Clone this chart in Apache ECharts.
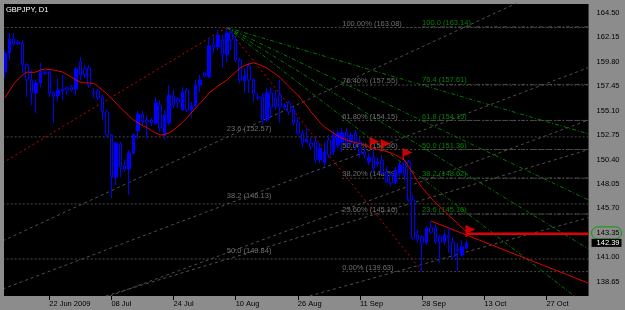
<!DOCTYPE html>
<html><head><meta charset="utf-8">
<script src="https://cdn.jsdelivr.net/npm/echarts@6/dist/echarts.min.js"></script>
<style>html,body{margin:0;padding:0;background:#8c8c8c}#c{width:625px;height:310px}</style>
</head><body><div id="c"></div>
<script>
// ---------- data ----------
const kFirst = -10;          // first bar index shown (bar 0 = 22 Jun 2009)
const kLast = 121;           // last slot index (future space)
const tickBars = [0, 14, 28, 42, 56, 70, 84, 98, 112];
const tickLabels = ['22 Jun 2009', '08 Jul', '24 Jul', '10 Aug', '26 Aug', '11 Sep', '28 Sep', '13 Oct', '27 Oct'];
const priceTicks = [164.50, 162.15, 159.80, 157.45, 155.10, 152.75, 150.40, 148.05, 145.70, 143.35, 141.00, 138.65];
const yMin = 137.286, yMax = 165.336;
const lastPrice = 142.39;
const circledPrice = 143.35;

const open = [158.80,160.63,161.97,161.69,161.59,159.48,158.04,156.79,157.75,158.80,
158.80,156.79,156.50,157.17,157.27,157.36,157.17,159.76,159.09,159.19,
156.82,156.98,156.40,154.96,152.75,148.72,151.89,149.77,149.49,151.02,
153.14,154.77,154.19,154.19,153.90,155.63,152.75,153.90,156.50,156.21,
155.15,157.07,155.15,155.54,157.55,158.71,158.32,161.40,161.21,161.88,
160.44,162.55,161.88,159.96,157.94,159.38,158.04,156.40,156.40,154.19,
156.79,156.31,156.59,155.44,155.83,155.25,154.00,152.94,152.08,151.98,
152.08,150.35,150.06,152.27,151.12,151.79,152.08,153.04,152.08,152.94,
152.08,151.12,150.16,150.64,149.97,150.35,149.20,148.91,148.14,149.10,
150.16,150.16,146.51,143.15,142.95,142.38,143.82,143.82,142.95,142.47,
143.05,142.47,141.80,141.22,141.90];
const close = [160.63,161.97,161.49,161.54,159.48,158.04,156.79,157.75,158.80,158.66,
156.79,156.50,157.07,156.98,157.07,157.07,159.09,158.52,158.52,157.55,
156.69,156.31,154.96,152.75,148.72,151.98,149.68,149.49,151.02,152.75,
154.77,154.00,154.00,153.90,155.83,153.42,154.67,156.59,155.63,155.92,
156.88,155.15,155.54,157.55,158.04,158.42,161.30,161.21,162.36,160.44,
162.55,161.88,159.96,158.04,158.42,158.04,156.69,156.31,154.19,156.79,
155.44,155.44,155.44,155.63,154.96,153.90,152.94,151.98,152.37,151.60,
150.35,151.50,151.12,150.83,152.75,152.94,152.94,151.98,152.75,151.98,
151.02,150.83,150.64,149.58,150.16,149.10,148.24,148.14,149.39,149.87,
148.91,146.51,142.86,142.76,142.38,143.82,143.43,142.47,142.47,143.15,
142.86,141.03,141.61,141.99,142.39];
const low = [158.23,159.96,161.30,161.40,158.71,156.40,155.63,154.87,157.36,158.52,
156.40,153.90,155.92,156.11,156.59,156.88,156.59,158.04,158.23,157.27,
156.31,156.11,154.19,152.56,146.70,147.95,148.72,149.20,146.99,150.83,
152.37,153.62,152.37,153.62,153.71,153.04,152.27,153.71,155.35,155.35,
155.06,154.96,154.39,155.44,156.88,158.23,158.23,160.63,160.92,159.19,
159.76,160.92,159.76,157.75,156.79,156.79,155.92,156.11,153.71,154.00,
154.39,155.15,153.90,155.15,154.67,153.71,152.75,151.60,151.98,151.31,
150.06,150.06,149.68,150.54,150.83,151.50,151.12,151.50,151.79,151.31,
150.54,150.54,149.87,149.10,149.68,149.00,148.14,147.85,148.04,148.72,
148.43,146.32,142.67,142.38,139.63,142.19,143.24,142.28,140.46,142.19,
141.42,140.94,139.65,141.03,141.70];
const high = [160.92,162.55,162.55,161.88,161.88,159.67,159.00,158.04,159.67,159.00,
159.00,156.98,158.23,158.52,157.46,157.55,159.28,160.24,159.48,159.48,
157.27,157.17,156.59,155.15,152.85,152.08,152.08,150.35,151.31,152.94,
155.06,155.06,154.58,154.39,156.40,156.11,155.15,157.55,157.07,156.40,
157.36,157.27,155.92,158.04,158.52,158.80,162.07,162.17,162.84,162.36,
163.08,162.84,162.26,160.15,159.19,159.67,158.23,156.79,156.79,157.27,
157.36,157.07,158.04,155.83,156.02,155.44,154.39,153.23,153.52,152.56,
152.46,151.98,152.08,152.75,153.23,153.23,153.42,153.42,153.04,153.23,
152.46,151.50,151.02,151.31,150.54,150.83,149.68,149.20,149.68,150.16,
150.35,150.35,146.99,143.63,143.15,144.01,144.49,144.20,143.15,143.63,
143.82,142.95,142.38,142.67,142.57];
const ma = [156.31,156.98,157.65,158.13,158.52,158.80,158.76,158.80,158.99,159.09,
159.04,158.99,158.90,158.80,158.56,158.32,158.03,157.84,157.75,157.75,
157.70,157.41,157.07,156.69,156.31,155.83,155.39,154.96,154.58,154.19,
153.91,153.66,153.47,153.18,152.94,152.75,152.80,152.94,153.23,153.57,
153.95,154.39,154.87,155.35,155.83,156.26,156.79,157.12,157.46,157.75,
158.03,158.42,158.80,159.19,159.43,159.57,159.67,159.57,159.38,159.19,
158.90,158.61,158.28,157.84,157.41,156.98,156.59,156.07,155.54,154.96,
154.48,153.95,153.52,153.23,152.94,152.66,152.42,152.27,152.13,152.03,
151.93,151.79,151.60,151.45,151.36,151.26,151.17,151.02,150.83,150.59,
150.35,149.70,149.00,148.30,147.70,147.20,146.70,146.25,145.85,145.45,
145.05,144.65,144.25,143.85,143.45];

// Fibonacci retracement 1 (grey, full width, labels at the top bar)
const fib1Bar = 40;
const fib1Levels = [0, 23.6, 38.2, 50.0];
const fib1Prices = [163.08, 152.57, 146.13, 140.84];
// Fibonacci retracement 2 (grey, from bar 66)
const fib2Bar = 66;
const fib2Levels = [100, 76.4, 61.8, 50, 38.2, 23.6, 0];
const fib2Prices = [163.08, 157.55, 154.15, 151.36, 148.59, 145.16, 139.63];
// Fibonacci retracement 3 (green labels, from bar 84)
const fib3Bar = 84;
const fib3Levels = [100, 76.4, 61.8, 50, 38.2, 23.6];
const fib3Prices = [163.14, 157.61, 154.15, 151.36, 148.62, 145.16];

// fan from the top (bar 40, 163.08): price where each ray meets the right edge
const fanStart = [40, 163.08];
const fanEndPrices = [152.85, 146.51, 141.80, 136.23];
// grey rising lines: two [bar, price] points on each
const greyLines = [
  [[-10.5, 142.58], [121.5, 168.62]],
  [[-10.5, 137.96], [121.5, 159.23]],
  [[13.66, 137.29], [121.5, 154.19]],
  [[12.76, 137.29], [121.5, 151.35]],
  [[58.68, 137.29], [121.5, 144.82]]
];
// red dotted anchor lines
const redDotted = [
  [[-10.5, 150.07], [40, 163.08]],
  [[40, 163.08], [84, 139.63]]
];
const trendLine = [[86, 144.49], [121.5, 138.52]];
const arrowLine = [[94.2, 143.30], [121.5, 143.30]];
const flags = [[73.3, 151.98], [75.8, 151.79], [80.7, 150.93], [94.9, 143.53]];

// ---------- chart ----------
const FONT = '"Liberation Sans", Arial, sans-serif';
const cats = [];
for (let k = kFirst; k <= kLast; k++) cats.push(String(k));
const isTick = (i) => tickBars.indexOf(i + kFirst) >= 0;
const xMinV = kFirst - 0.5, xMaxV = kLast + 0.5;

const series = [];
function seg(points, color, type, width, z) {
  series.push({type: 'line', xAxisIndex: 1, yAxisIndex: 0, data: points, symbol: 'none',
    lineStyle: {color: color, type: type, width: width}, silent: true, z: z || 2, animation: false});
}
fib1Prices.forEach(p => seg([[xMinV, p], [xMaxV, p]], '#4a4a4a', [2, 2], 1, 1));
fib2Prices.forEach(p => seg([[fib2Bar, p], [xMaxV, p]], '#4a4a4a', [2, 2], 1, 1));
fib3Prices.forEach(p => seg([[fib3Bar, p], [xMaxV, p]], '#4a4a4a', [4, 2, 1, 2], 1, 1));
greyLines.forEach(l => seg(l, '#4f4f4f', [3, 3], 1, 1));
fanEndPrices.forEach(p => seg([fanStart, [xMaxV, p]], '#007800', [4, 2, 1, 2], 1, 1));
redDotted.forEach(l => seg(l, '#d00000', [2, 3], 1, 3));
seg(trendLine, '#e00000', 'solid', 1, 3);

series.push({type: 'candlestick', xAxisIndex: 0, yAxisIndex: 0, barWidth: 3,
  data: open.map((o, i) => [o, close[i], low[i], high[i]]),
  itemStyle: {color: '#0000ff', color0: '#000000', borderColor: '#0000ff', borderColor0: '#0000ff', borderWidth: 1},
  z: 4, animation: false});

series.push({type: 'line', xAxisIndex: 1, yAxisIndex: 0, symbol: 'none', z: 5, silent: true,
  data: ma.map((v, i) => [kFirst + i, v]), lineStyle: {color: '#e00000', width: 1}, animation: false});

series.push({type: 'line', xAxisIndex: 1, yAxisIndex: 0, symbol: 'none', data: arrowLine, z: 6,
  lineStyle: {color: '#e00000', width: 2}, silent: true, animation: false,
  markLine: {silent: true, symbol: ['none', 'triangle'], symbolSize: [0, 11], animation: false,
    lineStyle: {color: '#e00000', width: 2, type: 'solid'}, label: {show: false},
    data: [[{coord: arrowLine[0]}, {coord: arrowLine[1]}]]}});

series.push({type: 'scatter', xAxisIndex: 1, yAxisIndex: 0, data: flags, z: 7, silent: true,
  symbol: 'path://M0,0 L10,5 L1.5,9 L1.5,13 L0,13 Z', symbolSize: [10, 12],
  itemStyle: {color: '#ff0000'}, animation: false});

function labels(bar, levels, prices, fmt, color, dy) {
  series.push({type: 'scatter', xAxisIndex: 1, yAxisIndex: 0, symbolSize: 0, silent: true, z: 3,
    data: prices.map((p, i) => ({value: [bar, p], label: {formatter: fmt(levels[i], p)}})),
    label: {show: true, position: [0, dy], align: 'left', verticalAlign: 'bottom',
      color: color, fontSize: 7.5, fontFamily: FONT}, animation: false});
}
labels(fib1Bar, fib1Levels.slice(1), fib1Prices.slice(1), (l, p) => l.toFixed(1) + ' (' + p.toFixed(2) + ')', '#8a8a8a', -4);
labels(fib2Bar, fib2Levels, fib2Prices, (l, p) => l.toFixed(2) + '% (' + p.toFixed(2) + ')', '#8a8a8a', 0);
labels(fib3Bar, fib3Levels, fib3Prices, (l, p) => l.toFixed(1) + ' (' + p.toFixed(2) + ')', '#00a000', 0);

const option = {
  backgroundColor: '#8c8c8c',
  animation: false,
  title: {text: 'GBPJPY, D1', left: 6, top: 6, padding: 0, textStyle: {color: '#ffffff', fontSize: 7.5, fontWeight: 'normal', fontFamily: FONT}},
  grid: {left: 2.65, right: 35.9, top: 4, bottom: 14, show: true, backgroundColor: '#000000', borderWidth: 0},
  xAxis: [
    {type: 'category', data: cats, boundaryGap: true,
      axisLine: {show: false},
      axisTick: {show: true, interval: isTick, alignWithLabel: true, length: 4, lineStyle: {color: '#000'}},
      axisLabel: {interval: isTick, formatter: (v) => { const t = tickBars.indexOf(+v); return t >= 0 ? tickLabels[t] : ''; },
        align: 'left', margin: 3.5, color: '#000', fontSize: 7.5, fontFamily: FONT},
      splitLine: {show: false}},
    {type: 'value', min: xMinV, max: xMaxV, show: false}
  ],
  yAxis: [
    {type: 'value', min: yMin, max: yMax, position: 'right', scale: true,
      axisLine: {show: false}, axisTick: {show: false}, splitLine: {show: false},
      axisLabel: {customValues: priceTicks, margin: 3, align: 'left', color: '#000', fontSize: 7.5, fontFamily: FONT,
        formatter: (v) => Math.abs(v - circledPrice) < 1e-6 ? '{e|' + v.toFixed(2) + '}' : '{n|' + v.toFixed(2) + '}',
        rich: {n: {padding: [0, 0, 0, 5], fontSize: 7.5, fontFamily: FONT, color: '#000'},
               e: {padding: [2, 2, 2, 5], fontSize: 7.5, fontFamily: FONT, color: '#000', borderColor: '#00a000', borderWidth: 1, borderRadius: 7}}}},
    {type: 'value', min: yMin, max: yMax, position: 'right',
      axisLine: {show: false}, axisTick: {show: false}, splitLine: {show: false},
      axisLabel: {customValues: [lastPrice], margin: 3, align: 'left', color: '#fff', backgroundColor: '#000',
        padding: [0, 2, 0, 5], fontSize: 7.5, fontFamily: FONT, formatter: (v) => v.toFixed(2)}}
  ],
  graphic: [{type: 'rect', shape: {x: 0, y: 0, width: 4, height: 310}, style: {fill: '#8c8c8c'}, z: 100}],
  series: series
};
const chart = echarts.init(document.getElementById('c'), null, {renderer: 'canvas'});
chart.setOption(option);
</script>
</body></html>
